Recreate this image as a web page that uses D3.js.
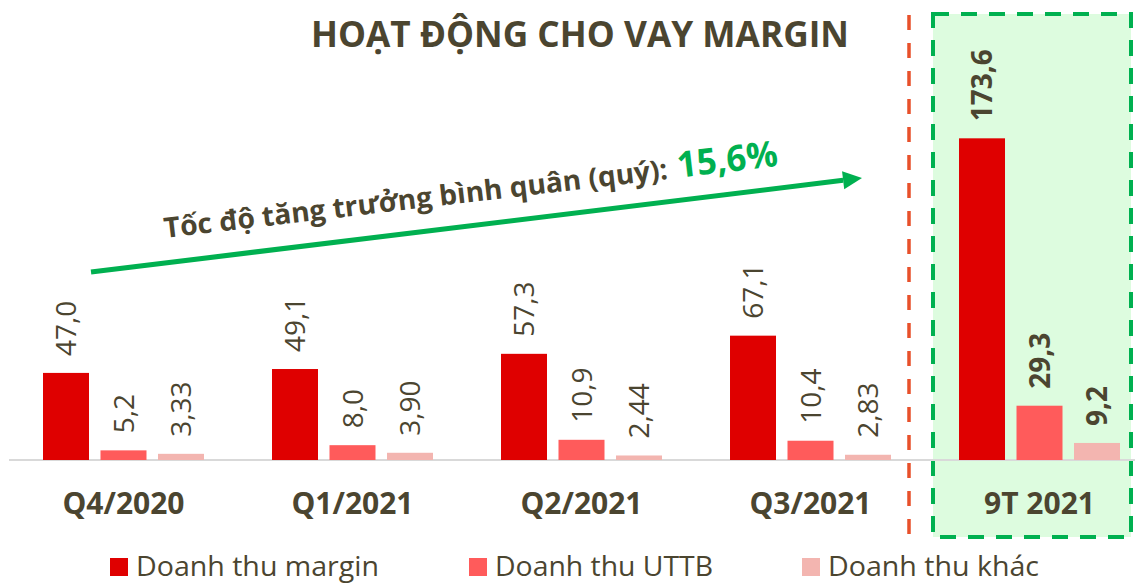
<!DOCTYPE html>
<html>
<head>
<meta charset="utf-8">
<script src="https://cdn.jsdelivr.net/npm/d3@7"></script>
<style>
	body { margin: 0; background: #fff; }
	text { font-family: "Open Sans", sans-serif; fill: #4b4530; }
</style>
</head>
<body>
<div id="chart-area"></div>
<script>

// data
let categories = ["Q4/2020", "Q1/2021", "Q2/2021", "Q3/2021", "9T 2021"];
let seriesNames = ["Doanh thu margin", "Doanh thu UTTB", "Doanh thu khác"];
let marginRevenue = [47.0, 49.1, 57.3, 67.1, 173.6];
let uttbRevenue = [5.2, 8.0, 10.9, 10.4, 29.3];
let otherRevenue = [3.33, 3.90, 2.44, 2.83, 9.2];
let otherDecimals = [2, 2, 2, 2, 1];
let colors = ["#df0000", "#ff5b5b", "#f3b5b0"];
let legendWidths = [243, 218, 211];

let width = 1135, height = 583;
let baseY = 460;

let svg = d3.select("#chart-area").append("svg")
	.attr("width", width)
	.attr("height", height);

// highlighted box for 9T 2021
svg.append("rect")
	.attr("x", 933).attr("y", 14)
	.attr("width", 198).attr("height", 523)
	.attr("fill", "#ddfcdf")
	.attr("stroke", "#00b050")
	.attr("stroke-width", 4)
	.attr("stroke-dasharray", "16,12");

// red separator
svg.append("line")
	.attr("x1", 909).attr("x2", 909)
	.attr("y1", 15).attr("y2", 535)
	.attr("stroke", "#e8502a")
	.attr("stroke-width", 3.5)
	.attr("stroke-dasharray", "15,13");

// Scales
let x = d3.scaleBand()
	.domain(categories)
	.range([43, 1120])
	.paddingInner(0.297)
	.paddingOuter(0);

let xInner = d3.scaleBand()
	.domain(d3.range(seriesNames.length))
	.range([0, x.bandwidth()])
	.paddingInner(0.2)
	.paddingOuter(0);

let y = d3.scaleLinear()
	.domain([0, 180])
	.range([baseY, baseY - 180 * 1.853]);

// baseline
svg.append("line")
	.attr("x1", 9).attr("x2", width)
	.attr("y1", baseY).attr("y2", baseY)
	.attr("stroke", "#d9d9d9")
	.attr("stroke-width", 2);

// bars
let rows = [];
categories.forEach((c, i) => {
	let vals = [marginRevenue[i], uttbRevenue[i], otherRevenue[i]];
	vals.forEach((v, s) => {
		let dec = s === 2 ? otherDecimals[i] : 1;
		rows.push({cat: c, series: s, value: v, label: v.toFixed(dec).replace(".", ","), last: i === categories.length - 1});
	});
});

svg.selectAll(".bar")
	.data(rows)
	.enter()
	.append("rect")
	.attr("class", "bar")
	.attr("x", d => x(d.cat) + xInner(d.series))
	.attr("y", d => y(d.value))
	.attr("width", xInner.bandwidth())
	.attr("height", d => baseY - y(d.value))
	.attr("fill", d => colors[d.series]);

// rotated value labels
svg.selectAll(".val")
	.data(rows)
	.enter()
	.append("text")
	.attr("class", "val")
	.attr("transform", d => "translate(" + (x(d.cat) + xInner(d.series) + xInner.bandwidth() / 2) + "," + (y(d.value) - 17) + ") rotate(-90)")
	.attr("dy", "0.36em")
	.attr("font-size", 28)
	.attr("font-weight", d => d.last ? 700 : 400)
	.text(d => d.label);

// category axis
let xAxis = d3.axisBottom(x).tickSize(0).tickPadding(0);
let gx = svg.append("g")
	.attr("class", "axis x-axis")
	.attr("transform", "translate(0," + baseY + ")")
	.call(xAxis);
gx.select(".domain").remove();
gx.selectAll("text")
	.attr("y", 54)
	.attr("dy", 0)
	.attr("font-size", 30)
	.attr("font-weight", 700)
	.style("font-family", "'Open Sans', sans-serif")
	.style("fill", "#4b4530");

// title
svg.append("text")
	.attr("x", 311).attr("y", 47)
	.attr("font-size", 36)
	.attr("font-weight", 700)
	.attr("textLength", 538)
	.attr("lengthAdjust", "spacingAndGlyphs")
	.text("HOẠT ĐỘNG CHO VAY MARGIN");

// growth arrow
let a0 = [91, 272], a1 = [862, 178];
let ang = Math.atan2(a1[1] - a0[1], a1[0] - a0[0]);
let headLen = 19, headW = 9;
let bx = a1[0] - headLen * Math.cos(ang), by = a1[1] - headLen * Math.sin(ang);
svg.append("line")
	.attr("x1", a0[0]).attr("y1", a0[1])
	.attr("x2", bx).attr("y2", by)
	.attr("stroke", "#00b050")
	.attr("stroke-width", 5);
svg.append("path")
	.attr("d", "M" + a1[0] + "," + a1[1]
		+ "L" + (bx + headW * Math.sin(ang)) + "," + (by - headW * Math.cos(ang))
		+ "L" + (bx - headW * Math.sin(ang)) + "," + (by + headW * Math.cos(ang)) + "Z")
	.attr("fill", "#00b050");

let note = svg.append("g")
	.attr("transform", "translate(165,238) rotate(-6.7)");
note.append("text")
	.attr("font-size", 28)
	.attr("font-weight", 700)
	.attr("textLength", 507)
	.attr("lengthAdjust", "spacingAndGlyphs")
	.text("Tốc độ tăng trưởng bình quân (quý):");
note.append("text")
	.attr("x", 517)
	.attr("font-size", 36)
	.attr("font-weight", 700)
	.attr("textLength", 101)
	.attr("lengthAdjust", "spacingAndGlyphs")
	.style("fill", "#00b050")
	.text("15,6%");

// legend
let legendX = [110, 469, 802];
let legend = svg.selectAll(".legend")
	.data(seriesNames)
	.enter()
	.append("g")
	.attr("class", "legend")
	.attr("transform", (d, i) => "translate(" + legendX[i] + ",558)");
legend.append("rect")
	.attr("width", 18).attr("height", 18)
	.attr("fill", (d, i) => colors[i]);
legend.append("text")
	.attr("x", 26).attr("y", 18)
	.attr("font-size", 28)
	.attr("textLength", (d, i) => legendWidths[i])
	.attr("lengthAdjust", "spacingAndGlyphs")
	.text(d => d);

</script>
</body>
</html>
